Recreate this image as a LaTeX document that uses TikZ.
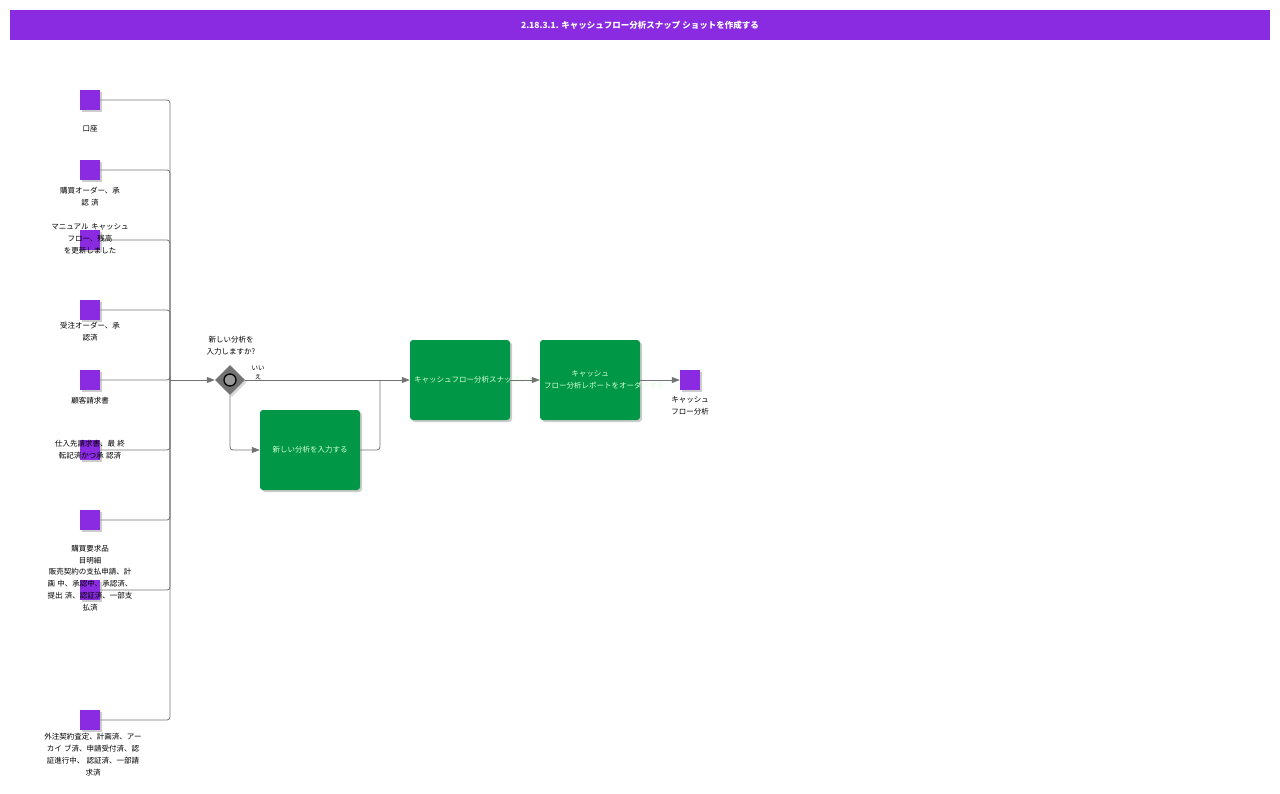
\documentclass[tikz,border=0pt]{standalone}
\usepackage{fontspec}
\setmainfont{Noto Sans CJK JP}
\usetikzlibrary{arrows.meta,shapes.geometric}
\definecolor{pur}{HTML}{8A2BE2}
\definecolor{grn}{HTML}{009846}
\tikzset{
 obj/.style={fill=pur,minimum size=20pt,inner sep=0,draw=none,drop shadow={shadow xshift=2pt,shadow yshift=-2pt,fill=black!40}},
 task/.style={fill=grn,rounded corners=3pt,minimum width=100pt,minimum height=80pt,text width=92pt,align=center,text=white!85!green,font=\fontsize{7.5}{12}\selectfont,drop shadow={shadow xshift=2pt,shadow yshift=-2pt,fill=black!40}},
 lab/.style={align=center,font=\fontsize{7.5}{12}\selectfont,inner sep=0,text width=135pt},
 conn/.style={draw=black!55,line width=0.8pt,rounded corners=3pt},
 arr/.style={conn,-{Triangle[length=8pt,width=6pt]}}
}
\usetikzlibrary{shadows}
\begin{document}
\begin{tikzpicture}[x=1pt,y=-1pt]
\useasboundingbox (0,0) rectangle (1280,793);
\fill[pur] (10,10) rectangle (1270,40);
\node[text=white,font=\bfseries\fontsize{8.5}{10}\selectfont] (title) at (640,25) {2.18.3.1. キャッシュフロー分析スナップ ショットを作成する};
\coordinate (bus) at (170,380);
\foreach \n/\y in {a/100,b/170,c/240,d/310,e/380,f/450,g/520,h/590,i/720}{
 \draw[conn] (100,\y) -| (bus);
}
\foreach \n/\y in {a/100,b/170,c/240,d/310,e/380,f/450,g/520,h/590,i/720}{
 \node[obj] (\n) at (90,\y) {};
}
\node[lab] (la) at (90,129) {口座};
\node[lab] (lb) at (90,197) {購買オーダー、承\\認 済};
\node[lab] (lc) at (90,239) {マニュアル キャッシュ\\フロー、残高\\を更新しました};
\node[lab] (ld) at (90,332) {受注オーダー、承\\認済};
\node[lab] (le) at (90,401) {顧客請求書};
\node[lab] (lf) at (90,450) {仕入先請求書、最 終\\転記済かつ承 認済};
\node[lab] (lg) at (90,555) {購買要求品\\目明細};
\node[lab] (lh) at (90,590) {販売契約の支払申請、計\\画 中、承認中、承認済、\\提出 済、認証済、一部支\\払済};
\node[lab] (li) at (93,755) {外注契約査定、計画済、アー\\カイ ブ済、申請受付済、認\\証進行中、 認証済、一部請\\求済};
\node[diamond,fill=black!55,minimum size=30pt,inner sep=0,drop shadow={shadow xshift=2pt,shadow yshift=-2pt,fill=black!30}] (gw) at (230,380) {};
\draw[line width=1.3pt,fill=black!40] (gw) circle (6pt);
\node[lab,text width=80pt] (gwl) at (231,346) {新しい分析を\\入力しますか?};
\node[font=\fontsize{6.5}{9}\selectfont,align=center,inner sep=0] (no) at (258,373) {いい\\え};
\node[task] (t2) at (310,450) {新しい分析を入力する};
\node[task] (t1) at (460,380) {キャッシュフロー分析スナップショットの更新};
\node[task] (t3) at (590,380) {キャッシュ フロー分析レポートをオーダーする};
\node[obj] (end) at (690,380) {};
\node[lab,text width=70pt] (lend) at (690,406) {キャッシュ\\フロー分析};
\draw[arr] (bus) -- (gw);
\draw[arr] (gw) -- (t1);
\draw[arr] (gw) |- (t2);
\draw[conn] (t2.east) -| (380,380);
\draw[arr] (t1) -- (t3);
\draw[arr] (t3) -- (end);
\end{tikzpicture}
\end{document}
